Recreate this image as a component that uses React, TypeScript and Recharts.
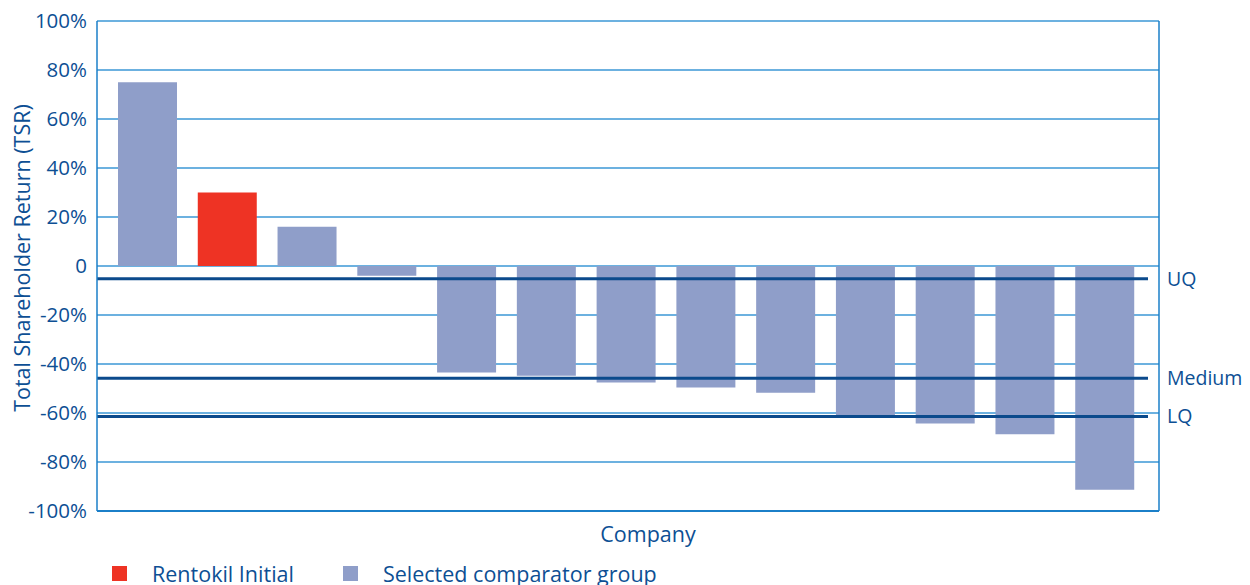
import React from "react";
import { Bar, BarChart, CartesianGrid, Cell, Legend, ReferenceLine, XAxis, YAxis } from "recharts";

const companies = [
  "Comparator A",
  "Rentokil Initial",
  "Comparator B",
  "Comparator C",
  "Comparator D",
  "Comparator E",
  "Comparator F",
  "Comparator G",
  "Comparator H",
  "Comparator I",
  "Comparator J",
  "Comparator K",
  "Comparator L",
];
const tsr = [75, 30, 16, -4, -43.5, -44.8, -47.6, -49.6, -51.7, -60.9, -64.3, -68.7, -91.3];
const isRentokil = [false, true, false, false, false, false, false, false, false, false, false, false, false];

const yTicks = [100, 80, 60, 40, 20, 0, -20, -40, -60, -80, -100];
const quartileLabels = ["UQ", "Medium", "LQ"];
const quartileValues = [-5.2, -45.8, -61.4];

const legendItems = [
  { label: "Rentokil Initial", color: "#ee3324" },
  { label: "Selected comparator group", color: "#8f9ec9" },
];

const TEXT = "#0d4f94";
const GRID = "#3b97d6";
const AXIS = "#1b7fc8";
const QLINE = "#0b4a8c";
const FONT = "'Open Sans', 'Noto Sans', sans-serif";

const data = companies.map((name, i) => ({ name, tsr: tsr[i], rentokil: isRentokil[i] }));

// shortened quartile line, stops a little before the right border
const QuartileLine = (props: any) => {
  const { x1, y1, x2, y2 } = props;
  return <line x1={x1} y1={y1} x2={x2 - 11} y2={y2} stroke={QLINE} strokeWidth={3} />;
};

// rotated y axis title, sits a bit above the plot centre like the original
const YTitle = (props: any) => {
  const { viewBox } = props;
  const x = viewBox.x + 13;
  const y = viewBox.y + viewBox.height / 2 - 8;
  return (
    <text
      x={x}
      y={y}
      transform={`rotate(-90, ${x}, ${y})`}
      textAnchor="middle"
      dominantBaseline="central"
      fill={TEXT}
      fontSize={21.5}
      fontFamily={FONT}
    >
      Total Shareholder Return (TSR)
    </text>
  );
};

const LegendContent = () => (
  <div style={{ display: "flex", alignItems: "center", paddingLeft: 104, paddingTop: 2, height: 28, fontFamily: FONT, fontSize: 21.5, color: TEXT }}>
    {legendItems.map((it, i) => (
      <div key={it.label} style={{ display: "flex", alignItems: "center", marginRight: i === 0 ? 49 : 0 }}>
        <span style={{ display: "inline-block", width: 15, height: 15, background: it.color, marginRight: 25 }} />
        <span>{it.label}</span>
      </div>
    ))}
  </div>
);

export default function App() {
  return (
    <div style={{ width: 1242, height: 577, fontFamily: FONT }}>
      <BarChart width={1242} height={577} data={data} margin={{ top: 13, right: 0, left: 0, bottom: 0 }}>
        <CartesianGrid vertical={false} stroke={GRID} strokeWidth={1.5} />
        <XAxis
          dataKey="name"
          tick={false}
          tickLine={false}
          axisLine={{ stroke: AXIS, strokeWidth: 2 }}
          height={46}
          padding={{ left: 11, right: 14 }}
          label={{ value: "Company", position: "insideTop", offset: 16, dx: 20, fill: TEXT, fontSize: 21.5 }}
        />
        <YAxis
          domain={[-100, 100]}
          ticks={yTicks}
          interval={0}
          width={89}
          tickLine={false}
          tickMargin={4}
          axisLine={{ stroke: AXIS, strokeWidth: 1.5 }}
          tick={{ fill: TEXT, fontSize: 20.5 }}
          tickFormatter={(v: number) => (v === 0 ? "0" : `${v}%`)}
          label={<YTitle />}
        />
        <YAxis
          yAxisId="right"
          orientation="right"
          domain={[-100, 100]}
          width={91}
          tick={false}
          tickLine={false}
          axisLine={{ stroke: AXIS, strokeWidth: 1.5 }}
        />
        <Bar dataKey="tsr" barSize={59} isAnimationActive={false}>
          {data.map((d, i) => (
            <Cell key={`c-${i}`} fill={d.rentokil ? legendItems[0].color : legendItems[1].color} />
          ))}
        </Bar>
        {quartileValues.map((v, i) => (
          <ReferenceLine
            key={quartileLabels[i]}
            y={v}
            shape={QuartileLine}
            label={{ value: quartileLabels[i], position: "right", offset: 8, fill: TEXT, fontSize: 19.5 }}
          />
        ))}
        <Legend verticalAlign="bottom" content={LegendContent} wrapperStyle={{ left: 0, width: 1242, height: 28 }} />
      </BarChart>
    </div>
  );
}
